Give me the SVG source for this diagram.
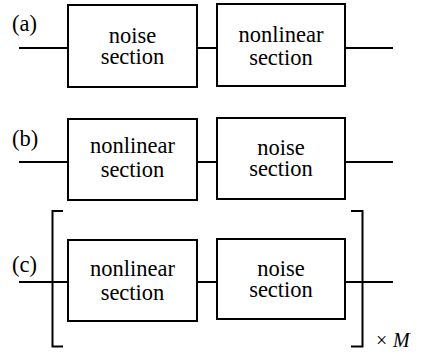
<svg xmlns="http://www.w3.org/2000/svg" width="428" height="357" viewBox="0 0 428 357">
<style>
.box{fill:#fff;stroke:#000;stroke-width:2}
.ln{fill:none;stroke:#000;stroke-width:2}
text{fill:#000}
.t{text-anchor:middle}
</style>
<rect width="428" height="357" fill="#fff"/>
<g id="connectors">
<path class="ln" d="M19,48H68M197,48H217M345,48H393"/>
<path class="ln" d="M19,162H68M197,162H217M345,162H393"/>
<path class="ln" d="M19,282H68M197,282H217M345,282H393"/>
<path class="ln" d="M63,211H52.5V346.5H63"/>
<path class="ln" d="M351,211H362.5V346.5H351"/>
</g>
<g font-family="'Liberation Serif', 'DejaVu Serif', serif" font-size="22.5">
<g id="label-a"><text x="12" y="31">(a)</text></g>
<g id="label-b"><text x="12" y="145.5">(b)</text></g>
<g id="label-c"><text x="12" y="272">(c)</text></g>
<g id="a-noise"><rect class="box" x="68" y="5" width="129" height="82"/><text class="t" x="132.5" y="42.5">noise</text><text class="t" x="132.5" y="63.5">section</text></g>
<g id="a-nonlinear"><rect class="box" x="217" y="4" width="128" height="82"/><text class="t" x="281" y="41.5">nonlinear</text><text class="t" x="281" y="65">section</text></g>
<g id="b-nonlinear"><rect class="box" x="68" y="119" width="129" height="81"/><text class="t" x="132.5" y="153">nonlinear</text><text class="t" x="132.5" y="176.5">section</text></g>
<g id="b-noise"><rect class="box" x="217" y="118" width="128" height="81"/><text class="t" x="281" y="155">noise</text><text class="t" x="281" y="176">section</text></g>
<g id="c-nonlinear"><rect class="box" x="68" y="240" width="129" height="81"/><text class="t" x="132.5" y="276">nonlinear</text><text class="t" x="132.5" y="300">section</text></g>
<g id="c-noise"><rect class="box" x="217" y="239" width="128" height="80"/><text class="t" x="281" y="275.5">noise</text><text class="t" x="281" y="296.5">section</text></g>
<g id="times-M"><text x="376" y="346.5" font-size="20">×<tspan x="393" font-style="italic">M</tspan></text></g>
</g>
</svg>
